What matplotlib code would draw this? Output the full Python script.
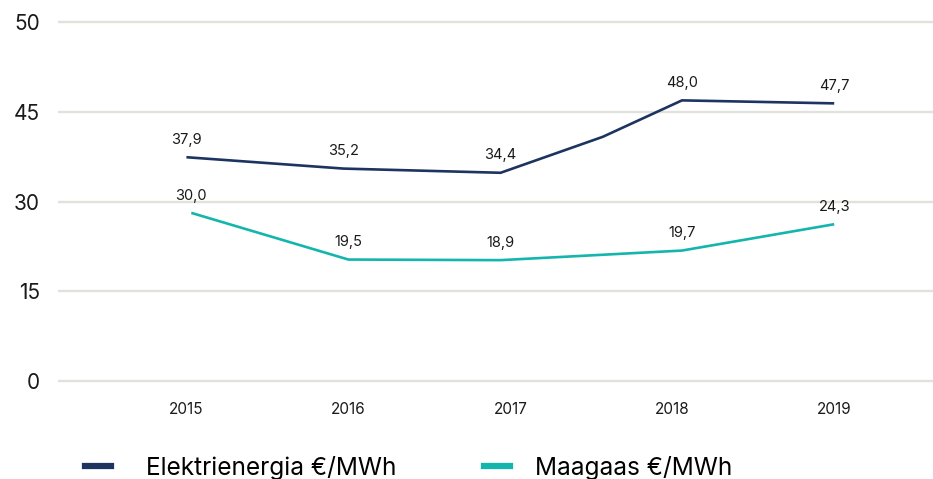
import matplotlib.pyplot as plt
from matplotlib.lines import Line2D

# data
years = [2015, 2016, 2017, 2018, 2019]

elec_x = [2015.0, 2015.97, 2016.94, 2017.57, 2018.06, 2019.0]
elec_y = [37.4, 35.5, 34.8, 40.8, 46.9, 46.4]
elec_label_x = [2015.0, 2015.97, 2016.94, 2018.06, 2019.0]
elec_label_y = [37.4, 35.5, 34.8, 46.9, 46.4]
elec_labels = ['37,9', '35,2', '34,4', '48,0', '47,7']

gas_x = [2015.03, 2016.0, 2016.94, 2018.06, 2019.0]
gas_y = [28.1, 20.3, 20.2, 21.8, 26.2]
gas_labels = ['30,0', '19,5', '18,9', '19,7', '24,3']

y_ticks = [0, 15, 30, 45, 60]
y_tick_labels = ['0', '15', '30', '45', '50']

elec_name = 'Elektrienergia €/MWh'
gas_name = 'Maagaas €/MWh'

elec_color = '#1d3461'
gas_color = '#14b5ad'
grid_color = '#e2e2dc'

plt.rcParams['font.family'] = ['Inter', 'DejaVu Sans']

fig = plt.figure(figsize=(9.33, 4.79), dpi=100)
ax = fig.add_axes([58 / 933, 1 - 387 / 479, 1 - 58 / 933, (387 - 16) / 479])

ax.plot(elec_x, elec_y, color=elec_color, lw=1.9, solid_capstyle='butt')
ax.plot(gas_x, gas_y, color=gas_color, lw=1.9, solid_capstyle='butt')

# подписи значений
for x, y, t in zip(elec_label_x, elec_label_y, elec_labels):
    ax.annotate(t, (x, y), xytext=(0, 12.5), textcoords='offset points',
                ha='center', va='center', fontsize=10.5, color='#1a1a1a')
for x, y, t in zip(gas_x, gas_y, gas_labels):
    ax.annotate(t, (x, y), xytext=(0, 12.5), textcoords='offset points',
                ha='center', va='center', fontsize=10.5, color='#1a1a1a')

ax.set_xlim(2014.207, 2019.61)
ax.set_ylim(-1, 61)
ax.set_yticks(y_ticks)
ax.set_yticklabels(y_tick_labels, fontsize=15, color='#1a1a1a')
ax.set_xticks(years)
ax.set_xticklabels([str(y) for y in years], fontsize=11, color='#1a1a1a')
ax.tick_params(axis='y', length=0, pad=13)
ax.tick_params(axis='x', length=0, pad=11)
ax.grid(axis='y', color=grid_color, lw=1.7)
ax.set_axisbelow(True)
for s in ax.spines.values():
    s.set_visible(False)

# легенда: две отдельные записи внизу
for name, color, x0, pad in [(elec_name, elec_color, 85, 1.45), (gas_name, gas_color, 484, 1.05)]:
    fig.legend([Line2D([], [], color=color, lw=4.5)], [name], loc='center left',
               bbox_to_anchor=(x0 / 933, 1 - 468 / 479), frameon=False,
               fontsize=17.6, handlelength=1.05, handletextpad=pad,
               borderpad=0, borderaxespad=0)

fig.savefig('out.png', dpi=100)
